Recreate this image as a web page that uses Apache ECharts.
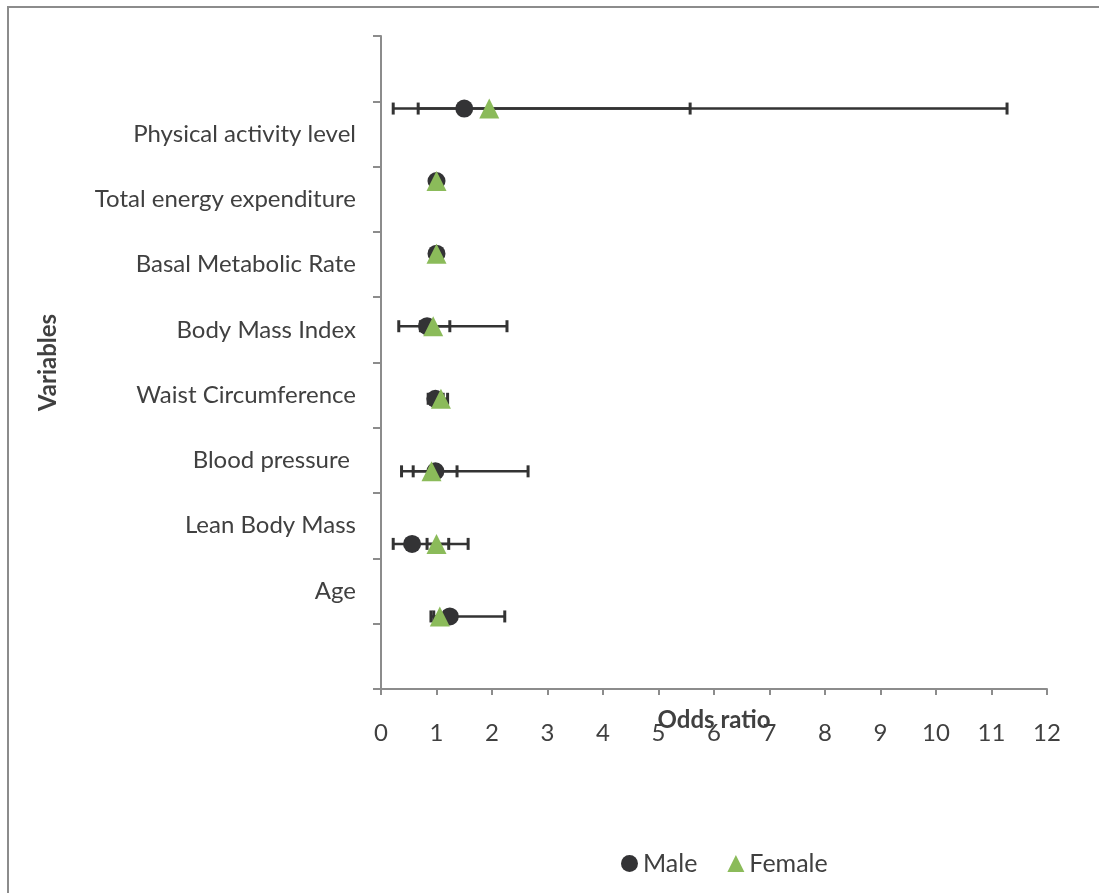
<!DOCTYPE html>
<html>
<head>
<meta charset="utf-8">
<script src="https://cdn.jsdelivr.net/npm/echarts@6/dist/echarts.min.js"></script>
<style>html,body{margin:0;padding:0;background:#fff;}#c{width:1099px;height:893px;}</style>
</head>
<body>
<div id="c"></div>
<script>
// Category labels (bottom to top), with empty slots at both ends
const categories = ['', 'Age', 'Lean Body Mass', 'Blood pressure ', 'Waist Circumference', 'Body Mass Index', 'Basal Metabolic Rate', 'Total energy expenditure', 'Physical activity level', ''];
// Vertical positions of each variable on the 0-9 value scale
const yPos = [1, 2, 3, 4, 5, 6, 7, 8];
// Male odds ratios and CI
const maleOR   = [1.24, 0.56, 0.98, 0.98, 0.83, 1.00, 1.00, 1.50];
const maleLow  = [0.90, 0.22, 0.37, 0.85, 0.32, 0.99, 0.99, 0.22];
const maleHigh = [2.23, 1.57, 2.65, 1.12, 2.27, 1.01, 1.01, 11.28];
// Female odds ratios and CI
const femaleOR   = [1.06, 1.00, 0.91, 1.08, 0.94, 1.00, 1.00, 1.95];
const femaleLow  = [0.95, 0.83, 0.58, 0.97, 0.71, 0.99, 0.99, 0.67];
const femaleHigh = [1.15, 1.22, 1.37, 1.20, 1.24, 1.01, 1.01, 5.57];
const xTicks = [0, 1, 2, 3, 4, 5, 6, 7, 8, 9, 10, 11, 12];

const FONT = 'Lato';
const FS = 24;
const chart = echarts.init(document.getElementById('c'));

function errData(low, high) {
  return yPos.map((y, i) => [low[i], high[i], y]);
}
function errRender(params, api) {
  const lo = api.coord([api.value(0), api.value(2)]);
  const hi = api.coord([api.value(1), api.value(2)]);
  const h = 6;
  const st = { stroke: '#333333', lineWidth: 2.5 };
  return {
    type: 'group',
    children: [
      { type: 'line', shape: { x1: lo[0], y1: lo[1], x2: hi[0], y2: hi[1] }, style: st },
      { type: 'line', shape: { x1: lo[0], y1: lo[1] - h, x2: lo[0], y2: lo[1] + h }, style: { stroke: '#333333', lineWidth: 3 } },
      { type: 'line', shape: { x1: hi[0], y1: hi[1] - h, x2: hi[0], y2: hi[1] + h }, style: { stroke: '#333333', lineWidth: 3 } }
    ]
  };
}

chart.setOption({
  animation: false,
  textStyle: { fontFamily: FONT },
  graphic: [{
    type: 'rect', shape: { x: 8, y: 7, width: 1200, height: 1000 },
    style: { fill: 'none', stroke: '#8c8c8c', lineWidth: 2 }, silent: true, z: -1
  }],
  grid: { left: 381, right: 52, top: 36, bottom: 204, containLabel: false },
  legend: {
    left: 616, top: 846, itemGap: 30, itemWidth: 17, itemHeight: 17,
    textStyle: { fontFamily: FONT, fontSize: 25, color: '#404040' },
    data: [
      { name: 'Male', icon: 'circle', itemStyle: { color: '#333335' } },
      { name: 'Female', icon: 'triangle', itemStyle: { color: '#8bbb5a' } }
    ]
  },
  xAxis: {
    type: 'value', min: 0, max: 12, interval: 1,
    axisLine: { show: true, lineStyle: { color: '#8c8c8c', width: 2 } },
    axisTick: { show: true, inside: false, length: 6, lineStyle: { color: '#8c8c8c', width: 2 } },
    splitLine: { show: false },
    axisLabel: { fontFamily: FONT, fontSize: FS, color: '#404040', margin: 32,
      formatter: v => String(xTicks[v] !== undefined ? xTicks[v] : v) },
    name: 'Odds ratio', nameLocation: 'middle', nameGap: 19, nameMoveOverlap: false,
    nameTextStyle: { fontFamily: FONT, fontSize: 24, fontWeight: 'bold', color: '#404040' }
  },
  yAxis: [{
    type: 'category', data: categories, boundaryGap: true,
    axisLine: { show: true, lineStyle: { color: '#8c8c8c', width: 2 } },
    axisTick: { show: true, inside: false, length: 8, alignWithLabel: false, interval: 0, lineStyle: { color: '#8c8c8c', width: 2 } },
    axisLabel: { fontFamily: FONT, fontSize: FS, color: '#404040', margin: 25, interval: 0 },
    name: 'Variables', nameLocation: 'middle', nameGap: 321, nameRotate: 90, nameMoveOverlap: false,
    nameTextStyle: { fontFamily: FONT, fontSize: 24, fontWeight: 'bold', color: '#404040' }
  }, {
    type: 'value', min: 0, max: 9, show: false, position: 'left'
  }],
  series: [
    { name: 'MaleErr', type: 'custom', yAxisIndex: 1, renderItem: errRender, data: errData(maleLow, maleHigh), z: 1, silent: true },
    { name: 'FemaleErr', type: 'custom', yAxisIndex: 1, renderItem: errRender, data: errData(femaleLow, femaleHigh), z: 1, silent: true },
    { name: 'Male', type: 'scatter', yAxisIndex: 1, symbol: 'circle', symbolSize: 18,
      itemStyle: { color: '#333335', opacity: 1 }, data: yPos.map((y, i) => [maleOR[i], y]), z: 3 },
    { name: 'Female', type: 'scatter', yAxisIndex: 1, symbol: 'triangle', symbolSize: 20,
      itemStyle: { color: '#8bbb5a', opacity: 1 }, data: yPos.map((y, i) => [femaleOR[i], y]), z: 4 }
  ]
});
</script>
</body>
</html>
